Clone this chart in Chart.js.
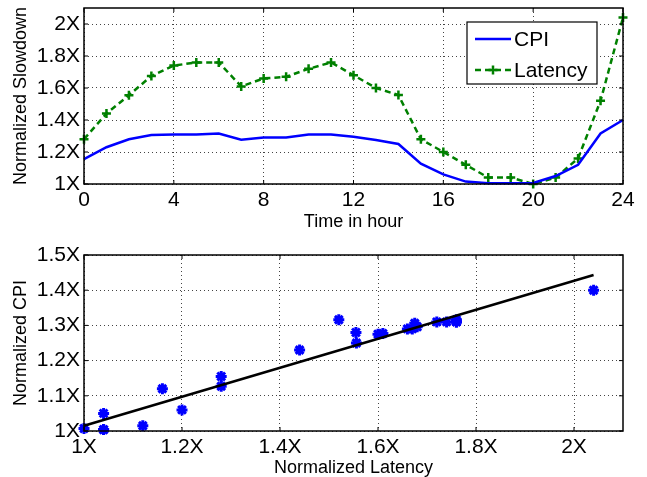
<!DOCTYPE html>
<html>
<head>
<meta charset="utf-8">
<script src="https://cdn.jsdelivr.net/npm/chart.js@4.4.1/dist/chart.umd.min.js"></script>
<style>
  html, body { margin: 0; padding: 0; background: #fff; }
  canvas { position: absolute; left: 0; }
  #top { top: 0; }
  #bottom { top: 238px; }
</style>
</head>
<body>
<canvas id="top" width="647" height="238"></canvas>
<canvas id="bottom" width="647" height="239"></canvas>
<script>
// data
const hours   = [0, 1, 2, 3, 4, 5, 6, 7, 8, 9, 10, 11, 12, 13, 14, 15, 16, 17, 18, 19, 20, 21, 22, 23, 24];
const cpi     = [1.155, 1.23, 1.28, 1.306, 1.31, 1.31, 1.316, 1.277, 1.29, 1.29, 1.31, 1.31, 1.296, 1.275, 1.25,
                 1.127, 1.06, 1.015, 1.004, 1.004, 1.007, 1.05, 1.12, 1.316, 1.40];
const latency = [1.28, 1.44, 1.555, 1.675, 1.74, 1.76, 1.76, 1.61, 1.66, 1.67, 1.72, 1.76, 1.68, 1.60, 1.556,
                 1.28, 1.20, 1.12, 1.04, 1.04, 1.0, 1.04, 1.16, 1.52, 2.04];
const fit_x = [1.0, 2.04];
const fit_y = [1.015, 1.443];

const top_y_ticks = [1, 2.1, 0.2];   // min, max, step
const top_x_ticks = [0, 24, 4];
const bot_x_ticks = [1, 2.1, 0.2];
const bot_y_ticks = [1, 1.5, 0.1];

const BLUE = '#0000ff';
const GREEN = '#008000';

Chart.defaults.font.family = '"Liberation Sans", Arial, Helvetica, sans-serif';
Chart.defaults.color = '#000';

function fmt_x(v) {
  if (Math.abs(v - Math.round(v)) < 1e-9) return Math.round(v) + 'X';
  return v.toFixed(1) + 'X';
}

// black box round the plot area with small inward tick marks
const frame_plugin = {
  id: 'frame',
  afterDatasetsDraw(chart) {
    const { ctx, chartArea: a } = chart;
    const sx = chart.scales.x, sy = chart.scales.y;
    const tl = 4;
    ctx.save();
    ctx.strokeStyle = '#000';
    ctx.lineWidth = 1;
    ctx.beginPath();
    sx.ticks.forEach(t => {
      const p = sx.getPixelForValue(t.value);
      ctx.moveTo(p, a.bottom); ctx.lineTo(p, a.bottom - tl);
      ctx.moveTo(p, a.top); ctx.lineTo(p, a.top + tl);
    });
    sy.ticks.forEach(t => {
      const p = sy.getPixelForValue(t.value);
      ctx.moveTo(a.left, p); ctx.lineTo(a.left + tl, p);
      ctx.moveTo(a.right, p); ctx.lineTo(a.right - tl, p);
    });
    ctx.stroke();
    ctx.lineWidth = 1.5;
    ctx.strokeRect(a.left, a.top, a.right - a.left, a.bottom - a.top);
    ctx.restore();
  }
};

// boxed legend inside the top-right corner (matlab style)
const box_legend = {
  id: 'box_legend',
  afterDraw(chart) {
    const { ctx, chartArea: a } = chart;
    const w = 130, h = 62;
    const x0 = a.right - 26 - w, y0 = a.top + 14;
    ctx.save();
    ctx.fillStyle = '#fff';
    ctx.fillRect(x0, y0, w, h);
    ctx.strokeStyle = '#000';
    ctx.lineWidth = 1.2;
    ctx.strokeRect(x0, y0, w, h);
    chart.data.datasets.forEach((ds, i) => {
      const y = y0 + 17 + i * 31;
      const lx0 = x0 + 8, lx1 = x0 + 44;
      ctx.strokeStyle = ds.borderColor;
      ctx.lineWidth = ds.borderWidth;
      ctx.setLineDash(ds.borderDash || []);
      ctx.beginPath(); ctx.moveTo(lx0, y); ctx.lineTo(lx1, y); ctx.stroke();
      ctx.setLineDash([]);
      if (ds.pointRadius > 0) {
        const cx = (lx0 + lx1) / 2, r = ds.pointRadius;
        ctx.lineWidth = ds.pointBorderWidth;
        ctx.beginPath();
        ctx.moveTo(cx - r, y); ctx.lineTo(cx + r, y);
        ctx.moveTo(cx, y - r); ctx.lineTo(cx, y + r);
        ctx.stroke();
      }
      ctx.fillStyle = '#000';
      ctx.font = '21px "Liberation Sans", Arial, sans-serif';
      ctx.textBaseline = 'middle';
      ctx.fillText(ds.label, x0 + 47, y + 1);
    });
    ctx.restore();
  }
};

function fix_y(w) {
  return scale => { scale.width = w; scale.paddingTop = 0; scale.paddingBottom = 0; };
}
function fix_x(h) {
  return scale => { scale.height = h; scale.paddingLeft = 0; scale.paddingRight = 0; };
}

const grid_opts = { color: '#444', lineWidth: 1, drawTicks: false };
const border_opts = { display: false, dash: [1, 3] };
const tick_font = { size: 21 };
const title_font = { size: 18 };

// top: slowdown over the day
new Chart(document.getElementById('top'), {
  type: 'line',
  data: {
    datasets: [
      {
        label: 'CPI',
        data: hours.map((h, i) => ({ x: h, y: cpi[i] })),
        borderColor: BLUE, borderWidth: 2.5, pointRadius: 0,
        tension: 0, clip: false
      },
      {
        label: 'Latency',
        data: hours.map((h, i) => ({ x: h, y: latency[i] })),
        borderColor: GREEN, borderWidth: 2.5, borderDash: [6, 4],
        pointStyle: 'cross', pointRadius: 4.5, pointBorderWidth: 2.5,
        pointBorderColor: GREEN, tension: 0, clip: false
      }
    ]
  },
  options: {
    responsive: false,
    animation: false,
    devicePixelRatio: 1,
    layout: { padding: { top: 8, right: 24, left: 0, bottom: 0 } },
    plugins: { legend: { display: false }, tooltip: { enabled: false } },
    scales: {
      x: {
        type: 'linear',
        min: top_x_ticks[0], max: top_x_ticks[1],
        ticks: { stepSize: top_x_ticks[2], font: tick_font, padding: 4, maxRotation: 0 },
        grid: grid_opts, border: border_opts,
        title: { display: true, text: 'Time in hour', font: title_font, padding: { top: 0, bottom: 5 } },
        afterFit: fix_x(54)
      },
      y: {
        min: top_y_ticks[0], max: top_y_ticks[1],
        ticks: { stepSize: top_y_ticks[2], includeBounds: false, font: tick_font, padding: 4, callback: fmt_x },
        grid: grid_opts, border: border_opts,
        title: { display: true, text: 'Normalized Slowdown', font: title_font, padding: { top: 10, bottom: 0 } },
        afterFit: fix_y(84)
      }
    }
  },
  plugins: [frame_plugin, box_legend]
});

// bottom: CPI vs latency
new Chart(document.getElementById('bottom'), {
  type: 'scatter',
  data: {
    datasets: [
      {
        label: 'fit',
        type: 'line',
        data: fit_x.map((x, i) => ({ x: x, y: fit_y[i] })),
        borderColor: '#000', borderWidth: 2.5, pointRadius: 0, clip: false
      },
      {
        label: 'hours',
        data: latency.map((l, i) => ({ x: l, y: cpi[i] })),
        pointStyle: 'star', pointRadius: 5.5, pointBorderWidth: 3,
        borderColor: BLUE, backgroundColor: BLUE, clip: false
      }
    ]
  },
  options: {
    responsive: false,
    animation: false,
    devicePixelRatio: 1,
    layout: { padding: { top: 17, right: 24, left: 0, bottom: 0 } },
    plugins: { legend: { display: false }, tooltip: { enabled: false } },
    scales: {
      x: {
        type: 'linear',
        min: bot_x_ticks[0], max: bot_x_ticks[1],
        ticks: { stepSize: bot_x_ticks[2], includeBounds: false, font: tick_font, padding: 4, maxRotation: 0, callback: fmt_x },
        grid: grid_opts, border: border_opts,
        title: { display: true, text: 'Normalized Latency', font: title_font, padding: { top: 0, bottom: -2 } },
        afterFit: fix_x(46)
      },
      y: {
        min: bot_y_ticks[0], max: bot_y_ticks[1],
        ticks: { stepSize: bot_y_ticks[2], includeBounds: false, font: tick_font, padding: 4, callback: fmt_x },
        grid: grid_opts, border: border_opts,
        title: { display: true, text: 'Normalized CPI', font: title_font, padding: { top: 10, bottom: 0 } },
        afterFit: fix_y(84)
      }
    }
  },
  plugins: [frame_plugin]
});
</script>
</body>
</html>
